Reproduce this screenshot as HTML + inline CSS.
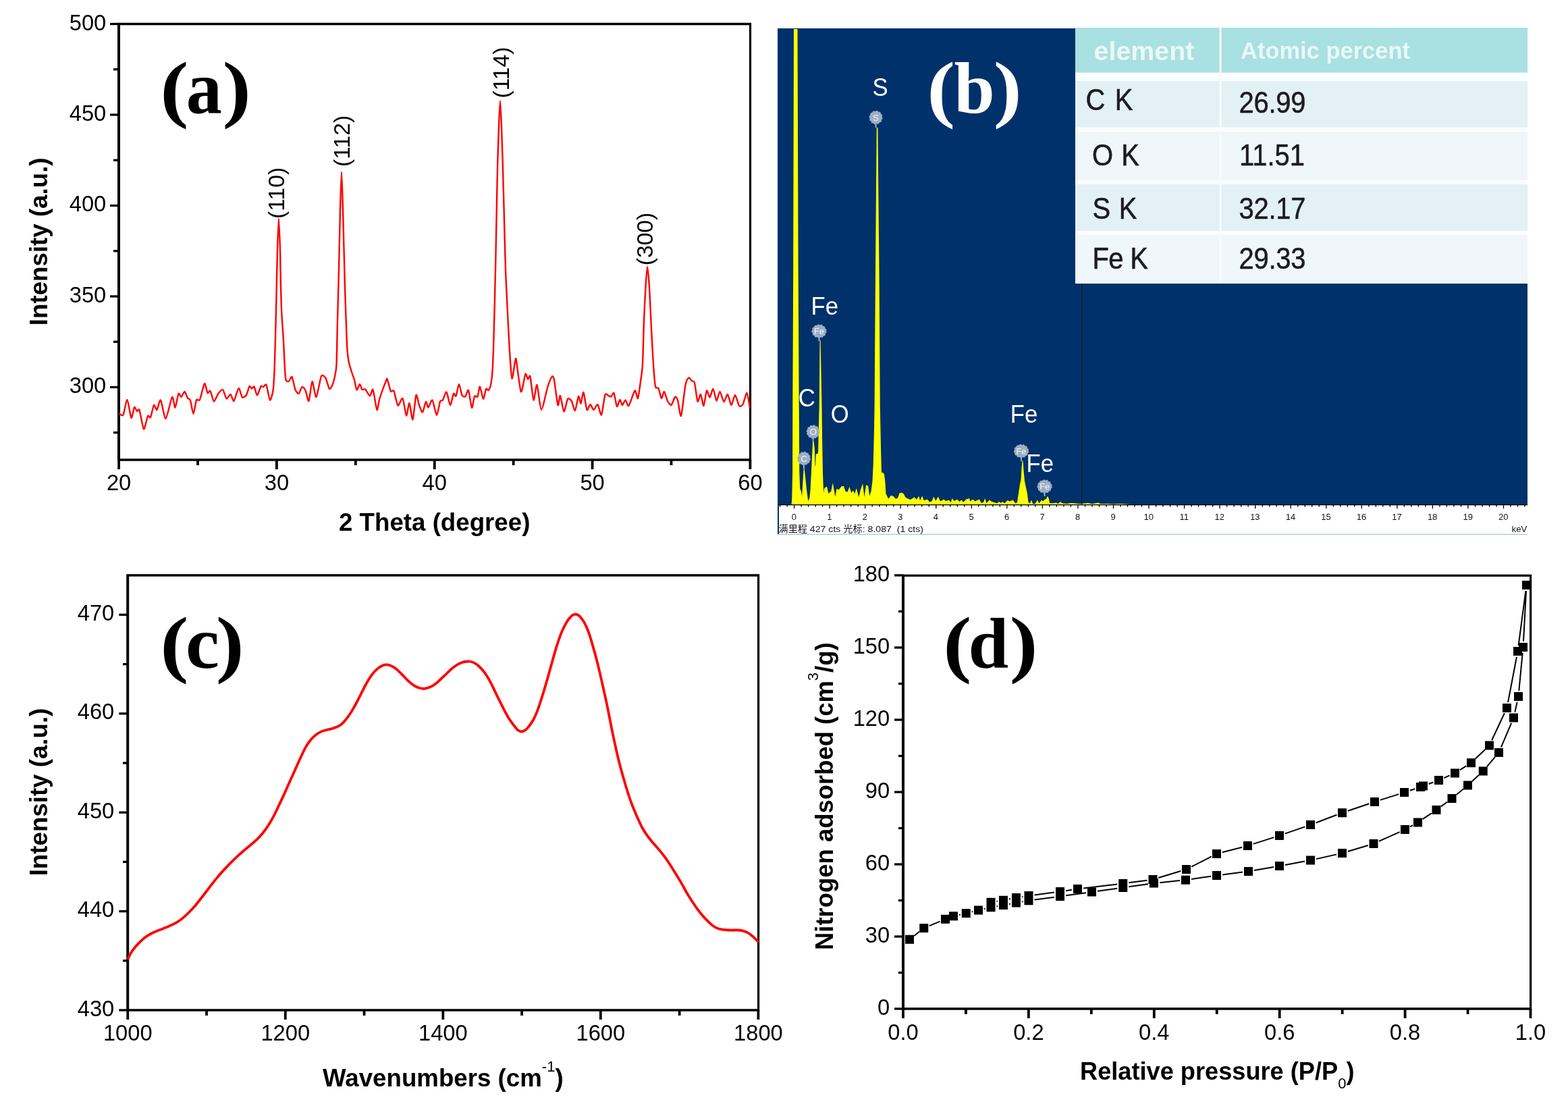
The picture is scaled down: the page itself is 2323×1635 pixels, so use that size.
<!DOCTYPE html>
<html lang="en"><head><meta charset="utf-8"><title>Figure</title>
<style>html,body{margin:0;padding:0;background:#fff;}body{width:2323px;height:1635px;overflow:hidden;}svg{display:block;}text{white-space:pre;}</style>
</head><body>
<svg width="2323" height="1635" viewBox="0 0 2323 1635">
<rect width="2323" height="1635" fill="#fff"/>
<g id="panel-a">
<path d="M174 33.85H1113.1V682.75H174ZM178 37.15V679.25H1109.9V37.15Z" fill="#000" fill-rule="evenodd"/>
<line x1="168" y1="640.66" x2="176" y2="640.66" stroke="#000" stroke-width="3.3"/>
<line x1="163" y1="573.42" x2="176" y2="573.42" stroke="#000" stroke-width="3.3"/>
<text x="157.3" y="582.42" font-family='"Liberation Sans", sans-serif' font-size="32.7" font-weight="normal" text-anchor="end" fill="#000" >300</text>
<line x1="168" y1="506.18" x2="176" y2="506.18" stroke="#000" stroke-width="3.3"/>
<line x1="163" y1="438.94" x2="176" y2="438.94" stroke="#000" stroke-width="3.3"/>
<text x="157.3" y="447.94" font-family='"Liberation Sans", sans-serif' font-size="32.7" font-weight="normal" text-anchor="end" fill="#000" >350</text>
<line x1="168" y1="371.7" x2="176" y2="371.7" stroke="#000" stroke-width="3.3"/>
<line x1="163" y1="304.46" x2="176" y2="304.46" stroke="#000" stroke-width="3.3"/>
<text x="157.3" y="313.46" font-family='"Liberation Sans", sans-serif' font-size="32.7" font-weight="normal" text-anchor="end" fill="#000" >400</text>
<line x1="168" y1="237.22" x2="176" y2="237.22" stroke="#000" stroke-width="3.3"/>
<line x1="163" y1="169.98" x2="176" y2="169.98" stroke="#000" stroke-width="3.3"/>
<text x="157.3" y="178.98" font-family='"Liberation Sans", sans-serif' font-size="32.7" font-weight="normal" text-anchor="end" fill="#000" >450</text>
<line x1="168" y1="102.74" x2="176" y2="102.74" stroke="#000" stroke-width="3.3"/>
<line x1="163" y1="35.5" x2="176" y2="35.5" stroke="#000" stroke-width="3.3"/>
<text x="157.3" y="44.5" font-family='"Liberation Sans", sans-serif' font-size="32.7" font-weight="normal" text-anchor="end" fill="#000" >500</text>
<line x1="176.1" y1="681" x2="176.1" y2="695" stroke="#000" stroke-width="3.8"/>
<text x="176.1" y="725.9" font-family='"Liberation Sans", sans-serif' font-size="32.7" font-weight="normal" text-anchor="middle" fill="#000" >20</text>
<line x1="293.01" y1="681" x2="293.01" y2="689" stroke="#000" stroke-width="3.8"/>
<line x1="409.92" y1="681" x2="409.92" y2="695" stroke="#000" stroke-width="3.8"/>
<text x="409.92" y="725.9" font-family='"Liberation Sans", sans-serif' font-size="32.7" font-weight="normal" text-anchor="middle" fill="#000" >30</text>
<line x1="526.84" y1="681" x2="526.84" y2="689" stroke="#000" stroke-width="3.8"/>
<line x1="643.75" y1="681" x2="643.75" y2="695" stroke="#000" stroke-width="3.8"/>
<text x="643.75" y="725.9" font-family='"Liberation Sans", sans-serif' font-size="32.7" font-weight="normal" text-anchor="middle" fill="#000" >40</text>
<line x1="760.66" y1="681" x2="760.66" y2="689" stroke="#000" stroke-width="3.8"/>
<line x1="877.58" y1="681" x2="877.58" y2="695" stroke="#000" stroke-width="3.8"/>
<text x="877.58" y="725.9" font-family='"Liberation Sans", sans-serif' font-size="32.7" font-weight="normal" text-anchor="middle" fill="#000" >50</text>
<line x1="994.49" y1="681" x2="994.49" y2="689" stroke="#000" stroke-width="3.8"/>
<line x1="1111.4" y1="681" x2="1111.4" y2="695" stroke="#000" stroke-width="3.8"/>
<text x="1111.4" y="725.9" font-family='"Liberation Sans", sans-serif' font-size="32.7" font-weight="normal" text-anchor="middle" fill="#000" >60</text>
<text transform="translate(70.3,357.8) rotate(-90)" font-family='"Liberation Sans", sans-serif' font-size="36.7" font-weight="bold" text-anchor="middle" fill="#000">Intensity (a.u.)</text>
<text x="643.7" y="786" font-family='"Liberation Sans", sans-serif' font-size="36.7" font-weight="bold" text-anchor="middle" fill="#000" >2 Theta (degree)</text>
<text transform="translate(237.14,167.79) scale(1.2654,1.0951)" font-family='"Liberation Serif", serif' font-size="100" font-weight="bold" fill="#000">(</text>
<text transform="translate(275.68,167.02) scale(1.0627,1.1106)" font-family='"Liberation Serif", serif' font-size="100" font-weight="bold" fill="#000">a</text>
<text transform="translate(329.6,167.79) scale(1.2732,1.0951)" font-family='"Liberation Serif", serif' font-size="100" font-weight="bold" fill="#000">)</text>
<path d="M176.5 612.5C177.17 612.72 181.17 616.78 182.5 614.5C183.83 612.22 187.17 591.5 188.5 592C189.83 592.5 193.33 617.78 194.5 619C195.67 620.22 198.06 604.11 199 603C199.94 601.89 202.17 608.56 203 609C203.83 609.44 205.39 604.06 206.5 607C207.61 609.94 211.61 634.5 213 635.5C214.39 636.5 217.89 617.94 219 616C220.11 614.06 222 619.78 223 618C224 616.22 226.94 601.22 228 600C229.06 598.78 231.39 607.83 232.5 607C233.61 606.17 236.56 591.06 238 592.5C239.44 593.94 243.61 620.5 245.5 620C247.39 619.5 253.44 589.83 255 588C256.56 586.17 258.44 604.06 259.5 603.5C260.56 602.94 263.5 584.72 264.5 583C265.5 581.28 267.5 588.33 268.5 588C269.5 587.67 272.44 579.83 273.5 580C274.56 580.17 277.06 588.06 278 589.5C278.94 590.94 281.06 590.39 282 593C282.94 595.61 285.5 613.06 286.5 613C287.5 612.94 289.94 594.83 291 592.5C292.06 590.17 294.67 594.72 296 592C297.33 589.28 301.72 569.11 303 568C304.28 566.89 306.56 580.78 307.5 582C308.44 583.22 310.44 577.61 311.5 579C312.56 580.39 315.72 594 317 594.5C318.28 595 321.56 585.44 323 583.5C324.44 581.56 328.61 576.22 330 577C331.39 577.78 334.22 589.72 335.5 590.5C336.78 591.28 340.28 583.61 341.5 584C342.72 584.39 345.17 595 346.5 594C347.83 593 352.11 575.61 353.5 575C354.89 574.39 357.72 587.39 359 588.5C360.28 589.61 363.83 586.83 365 585C366.17 583.17 368.61 573.06 369.5 572C370.39 570.94 372.22 575.44 373 575.5C373.78 575.56 375.61 571.39 376.5 572.5C377.39 573.61 379.89 585.56 381 585.5C382.11 585.44 385.5 573.39 386.5 572C387.5 570.61 389.11 573.22 390 573C390.89 572.78 393.39 567.83 394.5 570C395.61 572.17 398.89 591.56 400 592.5C401.11 593.44 403.78 583.22 404.5 578.5C405.22 573.78 406.11 558.72 406.5 550C406.89 541.28 407.67 512.5 408 500C408.33 487.5 409.17 451.94 409.5 437.5C409.83 423.06 410.61 382.61 411 370C411.39 357.39 412.56 324 413 324C413.44 324 414.72 361.56 415 370C415.28 378.44 415.28 390.28 415.5 400C415.72 409.72 416.5 445.83 417 457.5C417.5 469.17 419.33 493.61 420 505C420.67 516.39 422.11 553.39 423 560C423.89 566.61 426.94 564.72 428 564.5C429.06 564.28 431.44 556.61 432.5 558C433.56 559.39 436.39 574.22 437.5 577C438.61 579.78 441.39 583.44 442.5 583C443.61 582.56 446.39 573.56 447.5 573C448.61 572.44 451.39 575.67 452.5 578C453.61 580.33 456.39 595.44 457.5 594C458.61 592.56 461.28 565.67 462.5 565C463.72 564.33 467 588.89 468.5 588C470 587.11 474.44 560.11 476 557C477.56 553.89 481.17 557.89 482.5 560C483.83 562.11 486.89 574.89 488 576C489.11 577.11 491.61 572.06 492.5 570C493.39 567.94 495.33 560.83 496 557.5C496.67 554.17 498.06 549.17 498.5 540C498.94 530.83 499.61 490.56 500 475C500.39 459.44 501.56 418.33 502 400C502.44 381.67 503.56 326.17 504 310C504.44 293.83 505.56 254.5 506 254.5C506.44 254.5 507.44 291.06 508 310C508.56 328.94 510.33 402.78 511 425C511.67 447.22 513.39 497.78 514 510C514.61 522.22 515.67 530.28 516.5 535C517.33 539.72 520.56 549.44 521.5 552.5C522.44 555.56 524.22 559.72 525 562.5C525.78 565.28 527.61 576.78 528.5 577.5C529.39 578.22 532.11 569.06 533 569C533.89 568.94 535.61 576.17 536.5 577C537.39 577.83 539.72 575.44 541 576.5C542.28 577.56 546.72 586.44 548 586.5C549.28 586.56 551.33 574.72 552.5 577C553.67 579.28 557.39 605.56 558.5 607C559.61 608.44 560.94 594.94 562.5 590C564.06 585.06 571.22 565.56 572.5 562.5C573.78 559.44 573.28 560.61 574 562.5C574.72 564.39 577.94 577.67 579 579.5C580.06 581.33 582.33 576.67 583.5 579C584.67 581.33 588.06 599.28 589.5 600.5C590.94 601.72 595.11 588.33 596.5 590C597.89 591.67 600.89 614.72 602 615.5C603.11 616.28 605.44 596.33 606.5 597C607.56 597.67 610.39 622.83 611.5 621.5C612.61 620.17 615.44 587.39 616.5 585C617.56 582.61 619.94 597.17 621 600C622.06 602.83 624.89 611.06 626 610.5C627.11 609.94 630.06 595.78 631 595C631.94 594.22 633.44 603.78 634.5 603.5C635.56 603.22 639.11 591.22 640.5 592.5C641.89 593.78 645.72 614.78 647 615C648.28 615.22 651 597 652 594.5C653 592 654.94 594.06 656 592.5C657.06 590.94 660.28 579.67 661.5 580.5C662.72 581.33 665.83 599.72 667 600C668.17 600.28 671.06 584.5 672 583C672.94 581.5 674.61 588.06 675.5 586.5C676.39 584.94 679 569.11 680 569C681 568.89 683.44 583.5 684.5 585.5C685.56 587.5 688.44 587.83 689.5 587C690.56 586.17 692.94 576.11 694 578C695.06 579.89 698 603 699 604C700 605 702.06 588.83 703 587C703.94 585.17 706.61 589.11 707.5 587.5C708.39 585.89 710.06 572.11 711 572.5C711.94 572.89 715 590.61 716 591C717 591.39 719.17 577.44 720 576C720.83 574.56 722.72 578.67 723.5 578C724.28 577.33 726.33 573.11 727 570C727.67 566.89 729 557.78 729.5 550C730 542.22 731 516.67 731.5 500C732 483.33 733.56 419.44 734 400C734.44 380.56 735.17 341.67 735.5 325C735.83 308.33 736.61 265.28 737 250C737.39 234.72 738.56 198.67 739 187.5C739.44 176.33 740.56 149.5 741 149.5C741.44 149.5 742.56 176.33 743 187.5C743.44 198.67 744.56 234.72 745 250C745.44 265.28 746.56 308.33 747 325C747.44 341.67 748.44 384.72 749 400C749.56 415.28 751.33 449.17 752 462.5C752.67 475.83 754.28 509.11 755 520C755.72 530.89 757.5 559.28 758.5 560.5C759.5 561.72 763.06 532.17 764 531C764.94 529.83 766.17 544.61 767 550C767.83 555.39 770.72 576.72 771.5 579.5C772.28 582.28 773.22 577.89 774 575C774.78 572.11 777.61 555 778.5 553.5C779.39 552 781.22 561.06 782 561.5C782.78 561.94 784.56 554.06 785.5 557.5C786.44 560.94 789.39 591.11 790.5 592.5C791.61 593.89 794.22 568.39 795.5 570C796.78 571.61 800.22 606.72 802 607C803.78 607.28 809.72 578 811.5 572.5C813.28 567 816.94 558.61 818 557.5C819.06 556.39 820.06 557.78 821 562.5C821.94 567.22 825.5 597.39 826.5 600C827.5 602.61 829 584.94 830 586C831 587.06 834.28 608.94 835.5 609.5C836.72 610.06 839.78 592.78 841 591C842.22 589.22 845.28 591.61 846.5 593.5C847.72 595.39 850.83 608.72 852 608C853.17 607.28 856.06 588.17 857 587C857.94 585.83 859.67 598.17 860.5 597.5C861.33 596.83 863.5 579.94 864.5 581C865.5 582.06 868.39 605 869.5 607C870.61 609 873.39 599 874.5 599C875.61 599 878.28 607 879.5 607C880.72 607 884.22 598.17 885.5 599C886.78 599.83 889.78 616.11 891 614.5C892.22 612.89 895.33 587.67 896.5 584.5C897.67 581.33 900.5 585.67 901.5 586C902.5 586.33 904.61 587.94 905.5 587.5C906.39 587.06 908.56 580.39 909.5 582C910.44 583.61 913 600.89 914 602C915 603.11 917.61 592.22 918.5 592C919.39 591.78 921.11 599.94 922 600C922.89 600.06 925.44 592.39 926.5 592.5C927.56 592.61 929.94 602.56 931.5 601C933.06 599.44 939 579.72 940.5 578.5C942 577.28 944.06 591.5 945 590C945.94 588.5 948.22 570.56 949 565C949.78 559.44 951.44 550 952 540C952.56 530 953.5 487.78 954 475C954.5 462.22 955.94 433.89 956.5 425C957.06 416.11 958.39 395 959 395C959.61 395 961.33 414.72 962 425C962.67 435.28 964.33 474.72 965 487.5C965.67 500.28 967.33 530.56 968 540C968.67 549.44 970.17 568.61 971 572.5C971.83 576.39 974.5 573.06 975.5 575C976.5 576.94 979.06 589.44 980 590C980.94 590.56 983 579.56 984 580C985 580.44 987.83 591.78 989 594C990.17 596.22 993.28 600.67 994.5 600C995.72 599.33 998.94 588.83 1000 588C1001.06 587.17 1003 589.39 1004 592.5C1005 595.61 1007.72 618.5 1009 616C1010.28 613.5 1014.22 576.28 1015.5 570C1016.78 563.72 1019.44 560.17 1020.5 559.5C1021.56 558.83 1024.06 563.17 1025 564C1025.94 564.83 1028.06 563.61 1029 567C1029.94 570.39 1032.5 592.61 1033.5 594.5C1034.5 596.39 1037 583.28 1038 584C1039 584.72 1041.5 601.61 1042.5 601C1043.5 600.39 1046 579.89 1047 578.5C1048 577.11 1050.44 588.78 1051.5 588.5C1052.56 588.22 1055.39 575.44 1056.5 576C1057.61 576.56 1060.39 593.06 1061.5 593.5C1062.61 593.94 1065.28 579.83 1066.5 580C1067.72 580.17 1071.22 594.56 1072.5 595C1073.78 595.44 1076.78 583.44 1078 584C1079.22 584.56 1082.28 599.89 1083.5 600C1084.72 600.11 1087.72 584.89 1089 585C1090.28 585.11 1093.72 599.44 1095 601C1096.28 602.56 1099.22 601.11 1100.5 599C1101.78 596.89 1105.33 581.44 1106.5 582C1107.67 582.56 1110.5 601.56 1111 604" fill="none" stroke="#ff0000" stroke-width="2.4" stroke-linejoin="round"/>
<text transform="translate(421.1,285.9) rotate(-90)" font-family='"Liberation Sans", sans-serif' font-size="33.7" font-weight="normal" text-anchor="middle" fill="#000">(110)</text>
<text transform="translate(517.6,208.8) rotate(-90)" font-family='"Liberation Sans", sans-serif' font-size="33.7" font-weight="normal" text-anchor="middle" fill="#000">(112)</text>
<text transform="translate(754.1,107.5) rotate(-90)" font-family='"Liberation Sans", sans-serif' font-size="33.7" font-weight="normal" text-anchor="middle" fill="#000">(114)</text>
<text transform="translate(967.1,354) rotate(-90)" font-family='"Liberation Sans", sans-serif' font-size="33.7" font-weight="normal" text-anchor="middle" fill="#000">(300)</text>
</g>
<g id="panel-b">
<rect x="1152" y="42" width="1111" height="706" fill="#00316b"/>
<rect x="1152" y="748" width="1111" height="43.5" fill="#fff"/>
<rect x="1152" y="748" width="2" height="44" fill="#00316b"/>
<rect x="1152" y="790.8" width="1111" height="1.2" fill="#a9c0dc"/>
<polygon points="1172.5,747.5 1173.3,737.5 1174.1,700 1174.3,600 1175.2,400 1176,43 1181.5,43 1182.6,400 1183.7,600 1184.3,700 1185.25,723.75 1186.9,727.5 1188.1,735 1188.75,725 1190.6,695 1191.5,693 1193.1,706 1195,725 1197.25,742 1199.4,737.5 1200.6,725 1201.9,700 1203.1,675 1204,655 1205.6,653.75 1206.9,665 1207.6,690 1208.2,690 1208.75,672.5 1211.25,672 1212.1,670 1213.1,625 1213.75,600 1214.6,504 1215.6,504 1217.5,600 1218.1,650 1219,700 1219.75,720 1220.25,730 1221.25,723 1225,720.6 1227.5,731 1231.25,727.5 1233.75,715 1237.5,736 1239.4,723.75 1242.5,725.6 1246.9,720 1250,720 1252.5,727.5 1255.6,728.75 1258.5,721 1261.25,730 1263.75,726.25 1266.25,731.25 1268.75,723 1272.25,736.25 1275,725 1278.1,716.25 1280.6,736.25 1283.1,718 1286.25,720 1288.1,734.4 1290.6,727.5 1292.5,712.5 1293.75,687.5 1295,637.5 1295.6,600 1297,400 1298.8,189 1300.4,189 1302.5,400 1303.75,600 1305,662.5 1306,700 1308.1,699.75 1310,702.5 1311.25,712.5 1312.5,731.25 1314.4,735 1316.25,738.75 1320,733.75 1323.75,735 1326.9,738.75 1330,737.5 1332.5,730.6 1335.6,729.4 1338.75,731.25 1341.25,736.25 1343.75,738 1348.75,740 1355,736.25 1357.5,740 1361.25,734.75 1363.1,741.25 1366.25,734.4 1368.75,741.25 1373.75,739.4 1377.5,743.75 1380.6,742 1383.5,735.6 1386.25,742 1389.75,735.6 1393.1,742.5 1398.1,739.4 1401.25,742 1405.6,740.6 1408.75,743.75 1410.6,738 1413.75,742 1418.1,739.4 1421.25,743 1424.4,740.6 1427.5,743.75 1431.25,739.4 1436.25,738 1437,742.5 1441.4,739.4 1444.5,742.5 1447,741.25 1450.75,739.4 1453.9,745 1457,743.75 1459.25,738 1461.4,745 1465.75,740.6 1469.5,743 1474.5,744.4 1477,745.6 1480.1,743 1482.6,745 1485.1,743 1488.25,745.6 1492.6,741 1495.75,742.5 1500.75,740.6 1504.5,745.6 1507,743.75 1508.9,731.25 1510.75,718.75 1512.6,710 1513.5,693.75 1514.5,682.5 1515.5,682.5 1516.4,695 1518,712.5 1520.1,722.5 1522,731.25 1523.5,743.75 1525.75,745.6 1528.25,740.6 1530.1,746.25 1533.25,746.25 1537,740.6 1539.5,745.6 1543,740.6 1545.1,742.5 1548.25,739.4 1550.1,738.75 1552,734.4 1553.9,738.75 1555.1,745 1559.5,745.6 1564.5,744.4 1567.6,746.25 1570.5,743 1574.5,745.6 1580.75,746 1587,745 1593.25,745.6 1599.5,746.25 1612,745 1618.25,746.25 1627,744.4 1630.75,746.25 1640,746 1650,746.5 1660,746 1674.5,747 1674.5,747.5" fill="#ffff00"/>
<rect x="1602" y="419" width="1.3" height="329" fill="#0d1a24"/>
<rect x="1152" y="747" width="1111" height="1.3" fill="#000"/>
<path d="M1155.58 748v2.8M1166.09 748v2.8M1176.6 748v5.2M1187.11 748v2.8M1197.62 748v2.8M1208.13 748v2.8M1218.64 748v2.8M1229.14 748v5.2M1239.65 748v2.8M1250.16 748v2.8M1260.67 748v2.8M1271.18 748v2.8M1281.69 748v5.2M1292.2 748v2.8M1302.71 748v2.8M1313.22 748v2.8M1323.73 748v2.8M1334.23 748v5.2M1344.74 748v2.8M1355.25 748v2.8M1365.76 748v2.8M1376.27 748v2.8M1386.78 748v5.2M1397.29 748v2.8M1407.8 748v2.8M1418.31 748v2.8M1428.82 748v2.8M1439.32 748v5.2M1449.83 748v2.8M1460.34 748v2.8M1470.85 748v2.8M1481.36 748v2.8M1491.87 748v5.2M1502.38 748v2.8M1512.89 748v2.8M1523.4 748v2.8M1533.91 748v2.8M1544.41 748v5.2M1554.92 748v2.8M1565.43 748v2.8M1575.94 748v2.8M1586.45 748v2.8M1596.96 748v5.2M1607.47 748v2.8M1617.98 748v2.8M1628.49 748v2.8M1639 748v2.8M1649.5 748v5.2M1660.01 748v2.8M1670.52 748v2.8M1681.03 748v2.8M1691.54 748v2.8M1702.05 748v5.2M1712.56 748v2.8M1723.07 748v2.8M1733.58 748v2.8M1744.09 748v2.8M1754.59 748v5.2M1765.1 748v2.8M1775.61 748v2.8M1786.12 748v2.8M1796.63 748v2.8M1807.14 748v5.2M1817.65 748v2.8M1828.16 748v2.8M1838.67 748v2.8M1849.18 748v2.8M1859.68 748v5.2M1870.19 748v2.8M1880.7 748v2.8M1891.21 748v2.8M1901.72 748v2.8M1912.23 748v5.2M1922.74 748v2.8M1933.25 748v2.8M1943.76 748v2.8M1954.27 748v2.8M1964.78 748v5.2M1975.28 748v2.8M1985.79 748v2.8M1996.3 748v2.8M2006.81 748v2.8M2017.32 748v5.2M2027.83 748v2.8M2038.34 748v2.8M2048.85 748v2.8M2059.36 748v2.8M2069.86 748v5.2M2080.37 748v2.8M2090.88 748v2.8M2101.39 748v2.8M2111.9 748v2.8M2122.41 748v5.2M2132.92 748v2.8M2143.43 748v2.8M2153.94 748v2.8M2164.45 748v2.8M2174.95 748v5.2M2185.46 748v2.8M2195.97 748v2.8M2206.48 748v2.8M2216.99 748v2.8M2227.5 748v5.2M2238.01 748v2.8M2248.52 748v2.8M2259.03 748v2.8" stroke="#000" stroke-width="1.3" fill="none"/>
<text x="1176.3" y="769.6" font-family='"Liberation Sans", sans-serif' font-size="13" font-weight="normal" text-anchor="middle" fill="#1a1016" >0</text>
<text x="1228.85" y="769.6" font-family='"Liberation Sans", sans-serif' font-size="13" font-weight="normal" text-anchor="middle" fill="#1a1016" >1</text>
<text x="1281.39" y="769.6" font-family='"Liberation Sans", sans-serif' font-size="13" font-weight="normal" text-anchor="middle" fill="#1a1016" >2</text>
<text x="1333.93" y="769.6" font-family='"Liberation Sans", sans-serif' font-size="13" font-weight="normal" text-anchor="middle" fill="#1a1016" >3</text>
<text x="1386.48" y="769.6" font-family='"Liberation Sans", sans-serif' font-size="13" font-weight="normal" text-anchor="middle" fill="#1a1016" >4</text>
<text x="1439.02" y="769.6" font-family='"Liberation Sans", sans-serif' font-size="13" font-weight="normal" text-anchor="middle" fill="#1a1016" >5</text>
<text x="1491.57" y="769.6" font-family='"Liberation Sans", sans-serif' font-size="13" font-weight="normal" text-anchor="middle" fill="#1a1016" >6</text>
<text x="1544.12" y="769.6" font-family='"Liberation Sans", sans-serif' font-size="13" font-weight="normal" text-anchor="middle" fill="#1a1016" >7</text>
<text x="1596.66" y="769.6" font-family='"Liberation Sans", sans-serif' font-size="13" font-weight="normal" text-anchor="middle" fill="#1a1016" >8</text>
<text x="1649.2" y="769.6" font-family='"Liberation Sans", sans-serif' font-size="13" font-weight="normal" text-anchor="middle" fill="#1a1016" >9</text>
<text x="1701.75" y="769.6" font-family='"Liberation Sans", sans-serif' font-size="13" font-weight="normal" text-anchor="middle" fill="#1a1016" >10</text>
<text x="1754.29" y="769.6" font-family='"Liberation Sans", sans-serif' font-size="13" font-weight="normal" text-anchor="middle" fill="#1a1016" >11</text>
<text x="1806.84" y="769.6" font-family='"Liberation Sans", sans-serif' font-size="13" font-weight="normal" text-anchor="middle" fill="#1a1016" >12</text>
<text x="1859.38" y="769.6" font-family='"Liberation Sans", sans-serif' font-size="13" font-weight="normal" text-anchor="middle" fill="#1a1016" >13</text>
<text x="1911.93" y="769.6" font-family='"Liberation Sans", sans-serif' font-size="13" font-weight="normal" text-anchor="middle" fill="#1a1016" >14</text>
<text x="1964.48" y="769.6" font-family='"Liberation Sans", sans-serif' font-size="13" font-weight="normal" text-anchor="middle" fill="#1a1016" >15</text>
<text x="2017.02" y="769.6" font-family='"Liberation Sans", sans-serif' font-size="13" font-weight="normal" text-anchor="middle" fill="#1a1016" >16</text>
<text x="2069.56" y="769.6" font-family='"Liberation Sans", sans-serif' font-size="13" font-weight="normal" text-anchor="middle" fill="#1a1016" >17</text>
<text x="2122.11" y="769.6" font-family='"Liberation Sans", sans-serif' font-size="13" font-weight="normal" text-anchor="middle" fill="#1a1016" >18</text>
<text x="2174.65" y="769.6" font-family='"Liberation Sans", sans-serif' font-size="13" font-weight="normal" text-anchor="middle" fill="#1a1016" >19</text>
<text x="2227.2" y="769.6" font-family='"Liberation Sans", sans-serif' font-size="13" font-weight="normal" text-anchor="middle" fill="#1a1016" >20</text>
<clipPath id="kc"><rect x="2200" y="770" width="63" height="22"/></clipPath>
<text x="2239.6" y="787.8" font-family='"Liberation Sans", sans-serif' font-size="13.2" font-weight="normal" text-anchor="start" fill="#1a1016" clip-path="url(#kc)">keV</text>
<text x="1153.5" y="787.6" font-family='"Liberation Sans", "Noto Sans CJK SC", sans-serif' font-size="13.2" font-weight="normal" text-anchor="start" fill="#15101a" textLength="214.5" lengthAdjust="spacingAndGlyphs">满里程 427 cts 光标: 8.087  (1 cts)</text>
<text transform="translate(1304,142.2) scale(1,1.075)" font-family='"Liberation Sans", sans-serif' font-size="34.7" text-anchor="middle" fill="#fff">S</text>
<text transform="translate(1221.8,466) scale(1,1.075)" font-family='"Liberation Sans", sans-serif' font-size="34.7" text-anchor="middle" fill="#fff">Fe</text>
<text transform="translate(1195.3,601.8) scale(1,1.075)" font-family='"Liberation Sans", sans-serif' font-size="34.7" text-anchor="middle" fill="#fff">C</text>
<text transform="translate(1244.3,625.8) scale(1,1.075)" font-family='"Liberation Sans", sans-serif' font-size="34.7" text-anchor="middle" fill="#fff">O</text>
<text transform="translate(1517.1,626) scale(1,1.075)" font-family='"Liberation Sans", sans-serif' font-size="34.7" text-anchor="middle" fill="#fff">Fe</text>
<text transform="translate(1540.8,699) scale(1,1.075)" font-family='"Liberation Sans", sans-serif' font-size="34.7" text-anchor="middle" fill="#fff">Fe</text>
<rect x="1296.6" y="174" width="2" height="15" fill="#9daec4"/>
<ellipse cx="1297.6" cy="174" rx="9.3" ry="9.5" fill="#9daec4" stroke="#9daec4" stroke-width="1.5" stroke-dasharray="2.4 2.5"/>
<text x="1297.6" y="178.7" font-family='"Liberation Sans", sans-serif' font-size="13.5" font-weight="normal" text-anchor="middle" fill="#f1f5f9" >S</text>
<rect x="1212.5" y="490.5" width="2" height="14.5" fill="#9daec4"/>
<ellipse cx="1213.5" cy="490.5" rx="10.4" ry="9.5" fill="#9daec4" stroke="#9daec4" stroke-width="1.5" stroke-dasharray="2.4 2.5"/>
<text x="1213.5" y="495.2" font-family='"Liberation Sans", sans-serif' font-size="12.8" font-weight="normal" text-anchor="middle" fill="#f1f5f9" >Fe</text>
<rect x="1203.7" y="639.5" width="2" height="15.5" fill="#9daec4"/>
<ellipse cx="1204.7" cy="639.5" rx="9.3" ry="9.5" fill="#9daec4" stroke="#9daec4" stroke-width="1.5" stroke-dasharray="2.4 2.5"/>
<text x="1204.7" y="644.2" font-family='"Liberation Sans", sans-serif' font-size="13.5" font-weight="normal" text-anchor="middle" fill="#f1f5f9" >O</text>
<rect x="1190" y="679" width="2" height="15" fill="#9daec4"/>
<ellipse cx="1191" cy="679" rx="9.3" ry="9.5" fill="#9daec4" stroke="#9daec4" stroke-width="1.5" stroke-dasharray="2.4 2.5"/>
<text x="1191" y="683.7" font-family='"Liberation Sans", sans-serif' font-size="13.5" font-weight="normal" text-anchor="middle" fill="#f1f5f9" >C</text>
<rect x="1512" y="668" width="2" height="15" fill="#9daec4"/>
<ellipse cx="1513" cy="668" rx="10.4" ry="9.5" fill="#9daec4" stroke="#9daec4" stroke-width="1.5" stroke-dasharray="2.4 2.5"/>
<text x="1513" y="672.7" font-family='"Liberation Sans", sans-serif' font-size="12.8" font-weight="normal" text-anchor="middle" fill="#f1f5f9" >Fe</text>
<rect x="1546.6" y="720.5" width="2" height="14.5" fill="#9daec4"/>
<ellipse cx="1547.6" cy="720.5" rx="10.4" ry="9.5" fill="#9daec4" stroke="#9daec4" stroke-width="1.5" stroke-dasharray="2.4 2.5"/>
<text x="1547.6" y="725.2" font-family='"Liberation Sans", sans-serif' font-size="12.8" font-weight="normal" text-anchor="middle" fill="#f1f5f9" >Fe</text>
<text transform="translate(1373.27,167.79) scale(1.2576,1.0951)" font-family='"Liberation Serif", serif' font-size="100" font-weight="bold" fill="#fff">(</text>
<text transform="translate(1413.42,167.25) scale(1.0837,1.0702)" font-family='"Liberation Serif", serif' font-size="100" font-weight="bold" fill="#fff">b</text>
<text transform="translate(1471.73,167.79) scale(1.2615,1.0951)" font-family='"Liberation Serif", serif' font-size="100" font-weight="bold" fill="#fff">)</text>
<rect x="1593" y="41" width="670" height="379" fill="#fbfefe"/>
<rect x="1593" y="41" width="670" height="66.5" fill="#a9e0e2"/>
<rect x="1593" y="120" width="670" height="68.5" fill="#e3f1f6"/>
<rect x="1593" y="195" width="670" height="72" fill="#eff7fa"/>
<rect x="1593" y="273" width="670" height="69" fill="#e3f1f6"/>
<rect x="1593" y="347.5" width="670" height="72.3" fill="#eff7fa"/>
<rect x="1806.6" y="41" width="3" height="379" fill="#f6fcfd"/>
<text x="1620.5" y="89.3" font-family='"Liberation Sans", sans-serif' font-size="39" font-weight="bold" text-anchor="start" fill="#f2fafa" fill-opacity="0.88" textLength="149" lengthAdjust="spacingAndGlyphs">element</text>
<text x="1838" y="86.6" font-family='"Liberation Sans", sans-serif' font-size="34.5" font-weight="bold" text-anchor="start" fill="#f2fafa" fill-opacity="0.88" textLength="251" lengthAdjust="spacingAndGlyphs">Atomic percent</text>
<text transform="translate(1608.5,162.8) scale(1,1.1)" font-family='"Liberation Sans", sans-serif' font-size="40" fill="#1c1a22" stroke="#1c1a22" stroke-width="0.5" textLength="70" lengthAdjust="spacing">C K</text>
<text transform="translate(1618,245) scale(1,1.1)" font-family='"Liberation Sans", sans-serif' font-size="40" fill="#1c1a22" stroke="#1c1a22" stroke-width="0.5" textLength="70" lengthAdjust="spacing">O K</text>
<text transform="translate(1618.5,323.8) scale(1,1.1)" font-family='"Liberation Sans", sans-serif' font-size="40" fill="#1c1a22" stroke="#1c1a22" stroke-width="0.5" textLength="66" lengthAdjust="spacing">S K</text>
<text transform="translate(1618.5,397.6) scale(1,1.1)" font-family='"Liberation Sans", sans-serif' font-size="40" fill="#1c1a22" stroke="#1c1a22" stroke-width="0.5" textLength="82.5" lengthAdjust="spacing">Fe K</text>
<text transform="translate(1835.5,166.5) scale(1,1.1)" font-family='"Liberation Sans", sans-serif' font-size="40" fill="#1c1a22" stroke="#1c1a22" stroke-width="0.5" textLength="99" lengthAdjust="spacing">26.99</text>
<text transform="translate(1836,245) scale(1,1.1)" font-family='"Liberation Sans", sans-serif' font-size="40" fill="#1c1a22" stroke="#1c1a22" stroke-width="0.5" textLength="97" lengthAdjust="spacing">11.51</text>
<text transform="translate(1835.5,323.6) scale(1,1.1)" font-family='"Liberation Sans", sans-serif' font-size="40" fill="#1c1a22" stroke="#1c1a22" stroke-width="0.5" textLength="99" lengthAdjust="spacing">32.17</text>
<text transform="translate(1835.5,398.4) scale(1,1.1)" font-family='"Liberation Sans", sans-serif' font-size="40" fill="#1c1a22" stroke="#1c1a22" stroke-width="0.5" textLength="99" lengthAdjust="spacing">29.33</text>
</g>
<g id="panel-c">
<path d="M187.2 850.35H1125.2V1497.75H187.2ZM191.2 853.65V1494.25H1122V853.65Z" fill="#000" fill-rule="evenodd"/>
<line x1="176.3" y1="1496" x2="189.2" y2="1496" stroke="#000" stroke-width="3.3"/>
<text x="169.3" y="1504.6" font-family='"Liberation Sans", sans-serif' font-size="32.7" font-weight="normal" text-anchor="end" fill="#000" >430</text>
<line x1="182" y1="1422.8" x2="189.2" y2="1422.8" stroke="#000" stroke-width="3.3"/>
<line x1="176.3" y1="1349.6" x2="189.2" y2="1349.6" stroke="#000" stroke-width="3.3"/>
<text x="169.3" y="1358.2" font-family='"Liberation Sans", sans-serif' font-size="32.7" font-weight="normal" text-anchor="end" fill="#000" >440</text>
<line x1="182" y1="1276.4" x2="189.2" y2="1276.4" stroke="#000" stroke-width="3.3"/>
<line x1="176.3" y1="1203.2" x2="189.2" y2="1203.2" stroke="#000" stroke-width="3.3"/>
<text x="169.3" y="1211.8" font-family='"Liberation Sans", sans-serif' font-size="32.7" font-weight="normal" text-anchor="end" fill="#000" >450</text>
<line x1="182" y1="1130" x2="189.2" y2="1130" stroke="#000" stroke-width="3.3"/>
<line x1="176.3" y1="1056.8" x2="189.2" y2="1056.8" stroke="#000" stroke-width="3.3"/>
<text x="169.3" y="1065.4" font-family='"Liberation Sans", sans-serif' font-size="32.7" font-weight="normal" text-anchor="end" fill="#000" >460</text>
<line x1="182" y1="983.6" x2="189.2" y2="983.6" stroke="#000" stroke-width="3.3"/>
<line x1="176.3" y1="910.4" x2="189.2" y2="910.4" stroke="#000" stroke-width="3.3"/>
<text x="169.3" y="919" font-family='"Liberation Sans", sans-serif' font-size="32.7" font-weight="normal" text-anchor="end" fill="#000" >470</text>
<line x1="189.25" y1="1496" x2="189.25" y2="1510" stroke="#000" stroke-width="3.8"/>
<text x="189.25" y="1541.4" font-family='"Liberation Sans", sans-serif' font-size="32.7" font-weight="normal" text-anchor="middle" fill="#000" >1000</text>
<line x1="306.02" y1="1496" x2="306.02" y2="1504" stroke="#000" stroke-width="3.8"/>
<line x1="422.79" y1="1496" x2="422.79" y2="1510" stroke="#000" stroke-width="3.8"/>
<text x="422.79" y="1541.4" font-family='"Liberation Sans", sans-serif' font-size="32.7" font-weight="normal" text-anchor="middle" fill="#000" >1200</text>
<line x1="539.56" y1="1496" x2="539.56" y2="1504" stroke="#000" stroke-width="3.8"/>
<line x1="656.33" y1="1496" x2="656.33" y2="1510" stroke="#000" stroke-width="3.8"/>
<text x="656.33" y="1541.4" font-family='"Liberation Sans", sans-serif' font-size="32.7" font-weight="normal" text-anchor="middle" fill="#000" >1400</text>
<line x1="773.09" y1="1496" x2="773.09" y2="1504" stroke="#000" stroke-width="3.8"/>
<line x1="889.86" y1="1496" x2="889.86" y2="1510" stroke="#000" stroke-width="3.8"/>
<text x="889.86" y="1541.4" font-family='"Liberation Sans", sans-serif' font-size="32.7" font-weight="normal" text-anchor="middle" fill="#000" >1600</text>
<line x1="1006.63" y1="1496" x2="1006.63" y2="1504" stroke="#000" stroke-width="3.8"/>
<line x1="1123.4" y1="1496" x2="1123.4" y2="1510" stroke="#000" stroke-width="3.8"/>
<text x="1123.4" y="1541.4" font-family='"Liberation Sans", sans-serif' font-size="32.7" font-weight="normal" text-anchor="middle" fill="#000" >1800</text>
<text transform="translate(70.3,1173) rotate(-90)" font-family='"Liberation Sans", sans-serif' font-size="36.7" font-weight="bold" text-anchor="middle" fill="#000">Intensity (a.u.)</text>
<text x="478" y="1608.6" font-family='"Liberation Sans", sans-serif' font-size="36.7" font-weight="bold" fill="#000">Wavenumbers (cm<tspan dy="-21.5" font-size="22" font-weight="normal">-1</tspan><tspan dy="21.5">)</tspan></text>
<text transform="translate(237.14,989.71) scale(1.2654,1.0940)" font-family='"Liberation Serif", serif' font-size="100" font-weight="bold" fill="#000">(</text>
<text transform="translate(275.05,988.97) scale(1.1254,1.1073)" font-family='"Liberation Serif", serif' font-size="100" font-weight="bold" fill="#000">c</text>
<text transform="translate(319.85,989.71) scale(1.2576,1.0940)" font-family='"Liberation Serif", serif' font-size="100" font-weight="bold" fill="#000">)</text>
<path d="M189.25 1421C189.79 1419.83 191.26 1416.29 192.5 1413.97C193.74 1411.65 194.62 1409.84 196.7 1407.07C198.78 1404.3 201.67 1400.68 205 1397.34C208.33 1394 212.8 1389.83 216.7 1387.02C220.6 1384.21 224.23 1382.48 228.4 1380.5C232.57 1378.52 237.53 1376.84 241.7 1375.14C245.87 1373.43 249.78 1371.97 253.4 1370.29C257.02 1368.61 260.35 1366.95 263.4 1365.05C266.45 1363.15 268.92 1361.24 271.7 1358.9C274.48 1356.55 277.32 1353.76 280.1 1350.98C282.88 1348.2 285.62 1345.4 288.4 1342.2C291.18 1339.01 294.02 1335.33 296.8 1331.79C299.58 1328.26 302.33 1324.59 305.1 1320.98C307.87 1317.37 310.62 1313.71 313.4 1310.15C316.18 1306.58 319.02 1302.93 321.8 1299.6C324.58 1296.26 327.32 1293.21 330.1 1290.12C332.88 1287.03 335.72 1283.95 338.5 1281.06C341.28 1278.17 344.03 1275.42 346.8 1272.76C349.57 1270.1 352.32 1267.62 355.1 1265.12C357.88 1262.62 360.72 1260.11 363.5 1257.74C366.28 1255.38 369.02 1253.26 371.8 1250.92C374.58 1248.58 377.42 1246.4 380.2 1243.7C382.98 1241.01 385.73 1238.1 388.5 1234.74C391.27 1231.38 394.02 1227.84 396.8 1223.57C399.58 1219.3 402.42 1214.4 405.2 1209.14C407.98 1203.88 411 1197.24 413.5 1192.03C416 1186.82 417.97 1182.76 420.2 1177.88C422.43 1173 424.82 1167.43 426.9 1162.77C428.98 1158.12 430.93 1153.84 432.7 1149.94C434.47 1146.05 435.45 1143.92 437.5 1139.38C439.55 1134.84 442.42 1128.22 445 1122.72C447.58 1117.22 450.42 1110.9 453 1106.36C455.58 1101.82 458 1098.53 460.5 1095.5C463 1092.47 465.29 1090.26 468 1088.19C470.71 1086.13 473.83 1084.38 476.75 1083.12C479.67 1081.86 482.58 1081.4 485.5 1080.61C488.42 1079.82 491.33 1079.37 494.25 1078.37C497.17 1077.37 500.71 1075.88 503 1074.59C505.29 1073.3 505.92 1072.83 508 1070.65C510.08 1068.48 513.21 1064.64 515.5 1061.55C517.79 1058.46 519.67 1055.55 521.75 1052.13C523.83 1048.71 525.92 1044.9 528 1041C530.08 1037.1 532.17 1032.83 534.25 1028.75C536.33 1024.67 538.42 1020.38 540.5 1016.5C542.58 1012.62 544.67 1008.79 546.75 1005.5C548.83 1002.21 550.92 999.27 553 996.75C555.08 994.23 557.17 992.12 559.25 990.37C561.33 988.62 563.42 987.24 565.5 986.24C567.58 985.25 569.67 984.52 571.75 984.4C573.83 984.28 575.92 984.8 578 985.5C580.08 986.2 582.17 987.22 584.25 988.61C586.33 990 588.42 991.95 590.5 993.87C592.58 995.79 594.67 998 596.75 1000.13C598.83 1002.26 600.92 1004.62 603 1006.64C605.08 1008.66 607.17 1010.61 609.25 1012.26C611.33 1013.91 613.42 1015.39 615.5 1016.52C617.58 1017.65 619.67 1018.44 621.75 1019.02C623.83 1019.6 625.92 1020.09 628 1020C630.08 1019.91 632.17 1019.19 634.25 1018.5C636.33 1017.81 638.42 1017.05 640.5 1015.88C642.58 1014.72 644.67 1013.2 646.75 1011.51C648.83 1009.82 650.92 1007.68 653 1005.74C655.08 1003.8 657.17 1001.85 659.25 999.87C661.33 997.89 663.42 995.79 665.5 993.87C667.58 991.95 669.67 989.99 671.75 988.36C673.83 986.73 675.92 985.25 678 984.07C680.08 982.89 682.17 982.02 684.25 981.3C686.33 980.58 688.42 980.01 690.5 979.75C692.58 979.49 694.67 979.38 696.75 979.75C698.83 980.12 700.92 980.83 703 981.95C705.08 983.08 707.17 984.66 709.25 986.5C711.33 988.34 713.42 990.46 715.5 993C717.58 995.54 719.67 998.42 721.75 1001.75C723.83 1005.08 725.92 1008.97 728 1013C730.08 1017.03 732.25 1021.84 734.25 1025.96C736.25 1030.08 736.96 1031.78 740 1037.73C743.04 1043.67 748.33 1054.77 752.5 1061.65C756.67 1068.53 762.33 1075.61 765 1079C767.67 1082.38 767.25 1081.18 768.5 1081.95C769.75 1082.71 771.17 1083.55 772.5 1083.6C773.83 1083.65 775.04 1083.08 776.5 1082.25C777.96 1081.42 779 1081.27 781.25 1078.61C783.5 1075.96 787.5 1070.66 790 1066.29C792.5 1061.93 793.96 1058.52 796.25 1052.43C798.54 1046.34 801.25 1037.73 803.75 1029.75C806.25 1021.77 808.86 1012.83 811.25 1004.55C813.64 996.26 815.81 988.1 818.1 980.04C820.39 971.97 822.6 963.62 825 956.14C827.4 948.65 830 941.08 832.5 935.13C835 929.18 837.71 924.18 840 920.44C842.29 916.7 844.67 914.34 846.25 912.69C847.83 911.03 848.42 911.05 849.5 910.54C850.58 910.02 851.62 909.57 852.7 909.6C853.78 909.63 854.92 910.11 856 910.69C857.08 911.27 857.7 911.39 859.2 913.09C860.7 914.78 862.99 917.34 865 920.87C867.01 924.4 869.17 928.75 871.25 934.25C873.33 939.75 875.21 946.06 877.5 953.89C879.79 961.71 882.92 973.12 885 981.2C887.08 989.28 888.12 994.26 890 1002.39C891.88 1010.52 894.79 1023.5 896.25 1030C897.71 1036.5 897.71 1036.37 898.75 1041.4C899.79 1046.43 901.25 1053.87 902.5 1060.2C903.75 1066.53 904.9 1072.78 906.25 1079.41C907.6 1086.03 909.14 1093.27 910.6 1099.95C912.06 1106.64 913.53 1113.32 915 1119.5C916.47 1125.68 917.94 1131.54 919.4 1137.04C920.86 1142.54 922.3 1147.47 923.75 1152.5C925.2 1157.53 926.64 1162.47 928.1 1167.22C929.56 1171.97 931.03 1176.66 932.5 1181C933.97 1185.34 935.44 1189.49 936.9 1193.28C938.36 1197.06 939.69 1200.08 941.25 1203.7C942.81 1207.33 944.58 1211.37 946.25 1215C947.92 1218.63 949.58 1222.39 951.25 1225.5C952.92 1228.61 954.38 1230.85 956.25 1233.64C958.12 1236.43 960.42 1239.55 962.5 1242.25C964.58 1244.95 966.46 1247.15 968.75 1249.84C971.04 1252.52 973.75 1255.38 976.25 1258.36C978.75 1261.34 981.46 1264.68 983.75 1267.7C986.04 1270.72 987.92 1273.41 990 1276.5C992.08 1279.59 994.17 1282.96 996.25 1286.25C998.33 1289.54 1000.42 1292.86 1002.5 1296.25C1004.58 1299.64 1006.77 1303.17 1008.75 1306.59C1010.73 1310.01 1012.52 1313.46 1014.4 1316.79C1016.27 1320.12 1018.02 1323.31 1020 1326.56C1021.98 1329.8 1024.17 1333.12 1026.25 1336.25C1028.33 1339.38 1030.21 1342.22 1032.5 1345.34C1034.79 1348.47 1037.5 1352.04 1040 1355C1042.5 1357.96 1045 1360.6 1047.5 1363.12C1050 1365.64 1052.71 1368.29 1055 1370.13C1057.29 1371.96 1058.96 1373.08 1061.25 1374.13C1063.54 1375.17 1065.62 1375.82 1068.75 1376.38C1071.88 1376.95 1076.04 1377.31 1080 1377.5C1083.96 1377.69 1089.17 1377.35 1092.5 1377.5C1095.83 1377.65 1097.5 1377.81 1100 1378.42C1102.5 1379.03 1105.21 1379.97 1107.5 1381.15C1109.79 1382.34 1111.67 1383.84 1113.75 1385.54C1115.83 1387.24 1118.38 1389.75 1120 1391.33C1121.62 1392.9 1122.92 1394.39 1123.5 1395" fill="none" stroke="#ff0000" stroke-width="3.8"/>
</g>
<g id="panel-d">
<path d="M1336 850.65H2269.2V1495.75H1336ZM1340 853.95V1492.25H2266V853.95Z" fill="#000" fill-rule="evenodd"/>
<line x1="1325" y1="1494" x2="1338" y2="1494" stroke="#000" stroke-width="3.3"/>
<text x="1318.2" y="1502.6" font-family='"Liberation Sans", sans-serif' font-size="32.7" font-weight="normal" text-anchor="end" fill="#000" >0</text>
<line x1="1331" y1="1440.5" x2="1338" y2="1440.5" stroke="#000" stroke-width="3.3"/>
<line x1="1325" y1="1387" x2="1338" y2="1387" stroke="#000" stroke-width="3.3"/>
<text x="1318.2" y="1395.6" font-family='"Liberation Sans", sans-serif' font-size="32.7" font-weight="normal" text-anchor="end" fill="#000" >30</text>
<line x1="1331" y1="1333.5" x2="1338" y2="1333.5" stroke="#000" stroke-width="3.3"/>
<line x1="1325" y1="1280" x2="1338" y2="1280" stroke="#000" stroke-width="3.3"/>
<text x="1318.2" y="1288.6" font-family='"Liberation Sans", sans-serif' font-size="32.7" font-weight="normal" text-anchor="end" fill="#000" >60</text>
<line x1="1331" y1="1226.5" x2="1338" y2="1226.5" stroke="#000" stroke-width="3.3"/>
<line x1="1325" y1="1173" x2="1338" y2="1173" stroke="#000" stroke-width="3.3"/>
<text x="1318.2" y="1181.6" font-family='"Liberation Sans", sans-serif' font-size="32.7" font-weight="normal" text-anchor="end" fill="#000" >90</text>
<line x1="1331" y1="1119.5" x2="1338" y2="1119.5" stroke="#000" stroke-width="3.3"/>
<line x1="1325" y1="1066" x2="1338" y2="1066" stroke="#000" stroke-width="3.3"/>
<text x="1318.2" y="1074.6" font-family='"Liberation Sans", sans-serif' font-size="32.7" font-weight="normal" text-anchor="end" fill="#000" >120</text>
<line x1="1331" y1="1012.5" x2="1338" y2="1012.5" stroke="#000" stroke-width="3.3"/>
<line x1="1325" y1="959" x2="1338" y2="959" stroke="#000" stroke-width="3.3"/>
<text x="1318.2" y="967.6" font-family='"Liberation Sans", sans-serif' font-size="32.7" font-weight="normal" text-anchor="end" fill="#000" >150</text>
<line x1="1331" y1="905.5" x2="1338" y2="905.5" stroke="#000" stroke-width="3.3"/>
<line x1="1325" y1="852" x2="1338" y2="852" stroke="#000" stroke-width="3.3"/>
<text x="1318.2" y="860.6" font-family='"Liberation Sans", sans-serif' font-size="32.7" font-weight="normal" text-anchor="end" fill="#000" >180</text>
<line x1="1338" y1="1494" x2="1338" y2="1508" stroke="#000" stroke-width="3.8"/>
<text x="1338" y="1540" font-family='"Liberation Sans", sans-serif' font-size="32.7" font-weight="normal" text-anchor="middle" fill="#000" >0.0</text>
<line x1="1430.95" y1="1494" x2="1430.95" y2="1502" stroke="#000" stroke-width="3.8"/>
<line x1="1523.9" y1="1494" x2="1523.9" y2="1508" stroke="#000" stroke-width="3.8"/>
<text x="1523.9" y="1540" font-family='"Liberation Sans", sans-serif' font-size="32.7" font-weight="normal" text-anchor="middle" fill="#000" >0.2</text>
<line x1="1616.85" y1="1494" x2="1616.85" y2="1502" stroke="#000" stroke-width="3.8"/>
<line x1="1709.8" y1="1494" x2="1709.8" y2="1508" stroke="#000" stroke-width="3.8"/>
<text x="1709.8" y="1540" font-family='"Liberation Sans", sans-serif' font-size="32.7" font-weight="normal" text-anchor="middle" fill="#000" >0.4</text>
<line x1="1802.75" y1="1494" x2="1802.75" y2="1502" stroke="#000" stroke-width="3.8"/>
<line x1="1895.7" y1="1494" x2="1895.7" y2="1508" stroke="#000" stroke-width="3.8"/>
<text x="1895.7" y="1540" font-family='"Liberation Sans", sans-serif' font-size="32.7" font-weight="normal" text-anchor="middle" fill="#000" >0.6</text>
<line x1="1988.65" y1="1494" x2="1988.65" y2="1502" stroke="#000" stroke-width="3.8"/>
<line x1="2081.6" y1="1494" x2="2081.6" y2="1508" stroke="#000" stroke-width="3.8"/>
<text x="2081.6" y="1540" font-family='"Liberation Sans", sans-serif' font-size="32.7" font-weight="normal" text-anchor="middle" fill="#000" >0.8</text>
<line x1="2174.55" y1="1494" x2="2174.55" y2="1502" stroke="#000" stroke-width="3.8"/>
<line x1="2267.5" y1="1494" x2="2267.5" y2="1508" stroke="#000" stroke-width="3.8"/>
<text x="2267.5" y="1540" font-family='"Liberation Sans", sans-serif' font-size="32.7" font-weight="normal" text-anchor="middle" fill="#000" >1.0</text>
<text transform="translate(1233.6,1179.2) rotate(-90)" font-family='"Liberation Sans", sans-serif' font-size="36.45" font-weight="bold" text-anchor="middle" fill="#000">Nitrogen adsorbed (cm<tspan dy="-22" font-size="22" font-weight="normal">3</tspan><tspan dy="22">/g)</tspan></text>
<text x="1600" y="1598.5" font-family='"Liberation Sans", sans-serif' font-size="36.2" font-weight="bold" fill="#000">Relative pressure (P/P<tspan dy="13.7" font-size="22" font-weight="normal">0</tspan><tspan dy="-13.7">)</tspan></text>
<text transform="translate(1397.14,989.71) scale(1.2654,1.0940)" font-family='"Liberation Serif", serif' font-size="100" font-weight="bold" fill="#000">(</text>
<text transform="translate(1434.55,988.96) scale(1.0726,1.0673)" font-family='"Liberation Serif", serif' font-size="100" font-weight="bold" fill="#000">d</text>
<text transform="translate(1495.76,989.71) scale(1.2537,1.0940)" font-family='"Liberation Serif", serif' font-size="100" font-weight="bold" fill="#000">)</text>
<path d="M1354.25 1385.93L1362 1379.82M1376.69 1371.19L1392.56 1364.56M1420.89 1354.85L1422.86 1354.4M1439.6 1350.44L1441.15 1350.06M1457.88 1346.07L1459.62 1345.68M1476.47 1342.26L1478.03 1341.99M1494.96 1338.94L1497.04 1338.56M1513.97 1335.51L1515.53 1335.24M1532.52 1332.6L1561.98 1328.65M1579.02 1326.32L1608.98 1322.18M1626.02 1319.8L1655.23 1315.7M1672.26 1313.29L1700.99 1309.21M1718.06 1307.14L1747.94 1304.11M1765.01 1302L1793.99 1297.75M1811.03 1295.41L1840.97 1291.59M1857.97 1289.03L1887.03 1283.97M1903.96 1280.94L1933.04 1275.56M1949.89 1272.12L1980.11 1265.38M1996.73 1261.02L2026.77 1251.98M2042.84 1245.96L2073.66 1232.04M2089.03 1224.34L2092.97 1222.16M2107.64 1213.2L2120.86 1204.3M2134.92 1194.39L2144.08 1187.61M2157.62 1177.01L2167.88 1168.49M2180.82 1157.17L2190.93 1147.83M2202.8 1135.43L2214.95 1121.07M2223.88 1106.59L2239.12 1070.91M2244.37 1054.6L2247.63 1039.9M2250.32 1022.94L2255.68 967.06M2256.97 949.91L2261.03 875.09M2260.37 875.03L2249.63 955.97M2246.89 972.95L2234.11 1040.05M2228.85 1056.29L2210.15 1096.21M2200.28 1109.94L2185.72 1123.81M2172.24 1134.36L2162.76 1140.39M2147.62 1148.45L2139.38 1152.05M2123.43 1158.48L2116.57 1161.02M2096.34 1168.22L2088.66 1170.78M2072.3 1176.11L2044.7 1184.89M2028.35 1190.26L1996.65 1200.99M1980.45 1206.79L1949.55 1218.46M1933.38 1224.33L1903.62 1234.67M1887.31 1240.11L1856.69 1249.89M1840.18 1254.67L1810.82 1262.33M1794.84 1268.41L1765.16 1283.59M1749.27 1289.99L1716.23 1300.01M1699.48 1303.66L1672.27 1307.34M1655.21 1309.52L1605.04 1315.48M1588 1317.81L1579 1319.19M1561.97 1321.6L1532.53 1325.4M1515.51 1327.88L1513.99 1328.12M1497.06 1331.17L1494.94 1331.58M1478.01 1334.63L1476.49 1334.87" fill="none" stroke="#000" stroke-width="2"/>
<path d="M1341 1384.75h13v13h-13zM1362.25 1368h13v13h-13zM1394 1354.75h13v13h-13zM1406 1350.25h13v13h-13zM1424.75 1346h13v13h-13zM1443 1341.5h13v13h-13zM1461.5 1337.25h13v13h-13zM1480 1334h13v13h-13zM1499 1330.5h13v13h-13zM1517.5 1327.25h13v13h-13zM1564 1321h13v13h-13zM1611 1314.5h13v13h-13zM1657.25 1308h13v13h-13zM1703 1301.5h13v13h-13zM1750 1296.75h13v13h-13zM1796 1290h13v13h-13zM1843 1284h13v13h-13zM1889 1276h13v13h-13zM1935 1267.5h13v13h-13zM1982 1257h13v13h-13zM2028.5 1243h13v13h-13zM2075 1222h13v13h-13zM2094 1211.5h13v13h-13zM2121.5 1193h13v13h-13zM2144.5 1176h13v13h-13zM2168 1156.5h13v13h-13zM2190.75 1135.5h13v13h-13zM2214 1108h13v13h-13zM2236 1056.5h13v13h-13zM2243 1025h13v13h-13zM2250 952h13v13h-13zM2255 860h13v13h-13zM2255 860h13v13h-13zM2242 958h13v13h-13zM2226 1042h13v13h-13zM2200 1097.5h13v13h-13zM2173 1123.25h13v13h-13zM2149 1138.5h13v13h-13zM2125 1149h13v13h-13zM2102 1157.5h13v13h-13zM2098 1159h13v13h-13zM2074 1167h13v13h-13zM2030 1181h13v13h-13zM1982 1197.25h13v13h-13zM1935 1215h13v13h-13zM1889 1231h13v13h-13zM1842 1246h13v13h-13zM1796 1258h13v13h-13zM1751 1281h13v13h-13zM1701.5 1296h13v13h-13zM1657.25 1302h13v13h-13zM1590 1310h13v13h-13zM1564 1314h13v13h-13zM1517.5 1320h13v13h-13zM1499 1323h13v13h-13zM1480 1326.75h13v13h-13zM1461.5 1329.75h13v13h-13z" fill="#000"/>
</g>
</svg>
</body></html>
